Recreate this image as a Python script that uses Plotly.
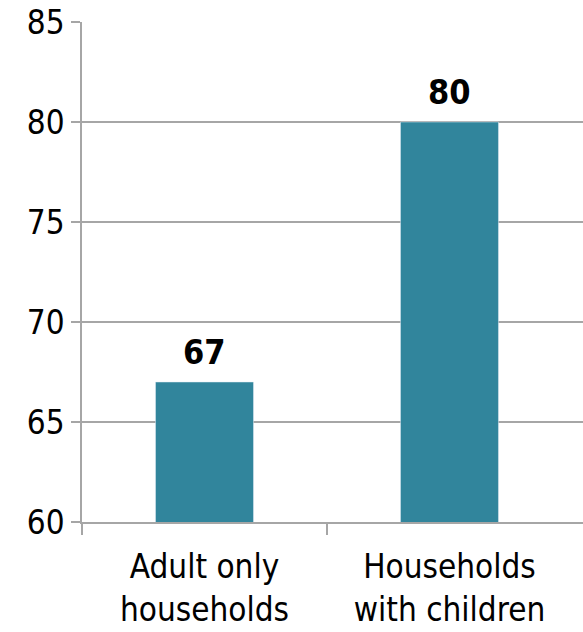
import plotly.graph_objects as go

categories = ["Adult only<br>households", "Households<br>with children"]
values = [67, 80]
y_ticks = [60, 65, 70, 75, 80, 85]

BAR = "#31859C"
GRID = "#A6A6A6"
FONT = "DejaVu Sans Condensed, DejaVu Sans"

x_pos = list(range(len(categories)))

fig = go.Figure()
fig.add_trace(go.Bar(x=x_pos, y=values, marker_color=BAR, width=0.4, showlegend=False,
                     hoverinfo="skip"))
# invisible trace to drive the tick-only overlay axis
fig.add_trace(go.Scatter(x=[x_pos[0]], y=[values[0]], xaxis="x2", mode="markers",
                         marker_opacity=0, showlegend=False, hoverinfo="skip"))

for x, v in zip(x_pos, values):
    fig.add_annotation(x=x, y=v, text=f"<b>{v}</b>", showarrow=False, yanchor="bottom",
                       yshift=8, font=dict(family=FONT, size=34, color="black"))

xr = [-0.5, 1.545]
fig.update_layout(
    width=583, height=632,
    margin=dict(l=82, r=0, t=22, b=110),
    plot_bgcolor="white", paper_bgcolor="white",
    bargap=0.6,
    font=dict(family=FONT, size=33, color="black"),
    xaxis=dict(range=xr, tickvals=x_pos, ticktext=categories, ticks="outside",
               ticklen=15, tickcolor="rgba(0,0,0,0)", showgrid=False, zeroline=False,
               showline=True, linecolor=GRID, linewidth=1.5, automargin=False,
               tickfont=dict(family=FONT, size=33)),
    xaxis2=dict(range=xr, overlaying="x", side="bottom", tickvals=[-0.5, 0.5],
                showticklabels=False, ticks="outside", ticklen=12, tickcolor=GRID,
                tickwidth=1.5, showgrid=False, zeroline=False, showline=False,
                automargin=False),
    yaxis=dict(range=[60, 85], tickvals=y_ticks, ticks="outside", ticklen=9,
               tickcolor=GRID, tickwidth=1.5, showgrid=True, gridcolor=GRID, gridwidth=1.5,
               showline=True, linecolor=GRID, linewidth=1.5, zeroline=False,
               automargin=False, tickfont=dict(family=FONT, size=33)),
)

fig.write_html("out.html", config={"displayModeBar": False},
               post_script="document.body.style.margin='0px';document.body.style.overflow='hidden';")
